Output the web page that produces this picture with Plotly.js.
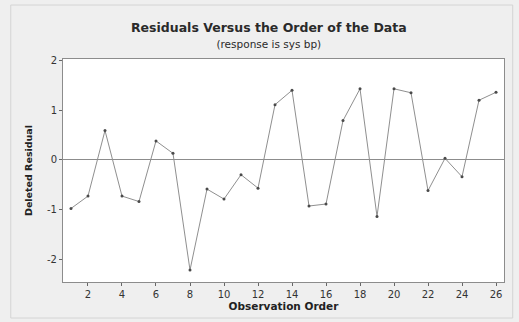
<!DOCTYPE html>
<html>
<head>
<meta charset="utf-8">
<script src="https://cdn.plot.ly/plotly-3.0.1.min.js"></script>
<style>
  html, body { margin: 0; padding: 0; background: #efefef; }
  #chart { width: 519px; height: 322px; }
</style>
</head>
<body>
<div id="chart"></div>
<script>
const observationOrder = [1,2,3,4,5,6,7,8,9,10,11,12,13,14,15,16,17,18,19,20,21,22,23,24,25,26];
const deletedResidual = [-0.98,-0.73,0.59,-0.73,-0.84,0.38,0.13,-2.22,-0.59,-0.79,-0.30,-0.57,1.11,1.40,-0.93,-0.89,0.79,1.43,-1.14,1.43,1.35,-0.62,0.03,-0.34,1.20,1.36];
const xTicks = [2,4,6,8,10,12,14,16,18,20,22,24,26];
const yTicks = [-2,-1,0,1,2];
const titleText = 'Residuals Versus the Order of the Data';
const subtitleText = '(response is sys bp)';
const xTitle = 'Observation Order';
const yTitle = 'Deleted Residual';

const trace = {
  x: observationOrder,
  y: deletedResidual,
  type: 'scatter',
  mode: 'lines+markers',
  line: { color: '#8f8f8f', width: 1 },
  marker: { color: '#4a4a4a', size: 3 },
  hoverinfo: 'x+y'
};

const layout = {
  width: 519,
  height: 322,
  paper_bgcolor: '#efefef',
  plot_bgcolor: '#ffffff',
  margin: { l: 63, r: 15, t: 59, b: 40 },
  showlegend: false,
  title: {
    text: '<b>' + titleText + '</b><br><span style="font-size:10.5px;font-weight:normal">' + subtitleText + '</span>',
    font: { family: 'DejaVu Sans', size: 12.5, color: '#2a2a2a' },
    x: 0.518, xanchor: 'center',
    y: 0.902, yanchor: 'top'
  },
  xaxis: {
    range: [0.53, 26.47],
    tickvals: xTicks,
    ticktext: xTicks.map(String),
    ticks: 'outside', ticklen: 3, tickcolor: '#666',
    showgrid: false, zeroline: false,
    showline: true, mirror: true, linecolor: '#8c8c8c', linewidth: 1,
    tickfont: { family: 'DejaVu Sans', size: 10, color: '#333' },
    title: { text: '<b>' + xTitle + '</b>', font: { family: 'DejaVu Sans', size: 10.5, color: '#222' }, standoff: 3 }
  },
  yaxis: {
    range: [-2.46, 2.03],
    tickvals: yTicks,
    ticktext: yTicks.map(v => v < 0 ? '-' + Math.abs(v) : String(v)),
    ticks: 'outside', ticklen: 3, tickcolor: '#666',
    showgrid: false,
    zeroline: true, zerolinecolor: '#8c8c8c', zerolinewidth: 1,
    showline: true, mirror: true, linecolor: '#8c8c8c', linewidth: 1,
    tickfont: { family: 'DejaVu Sans', size: 10, color: '#333' },
    title: { text: '<b>' + yTitle + '</b>', font: { family: 'DejaVu Sans', size: 9.5, color: '#222' }, standoff: 12 }
  },
  shapes: [{
    type: 'rect', xref: 'paper', yref: 'paper',
    x0: -54/456, x1: 1 + 9/456, y0: -36/223, y1: 1 + 54/223,
    line: { color: '#d4d4d4', width: 1 }, fillcolor: 'rgba(0,0,0,0)', layer: 'below'
  }]
};

Plotly.newPlot('chart', [trace], layout, { staticPlot: true, displayModeBar: false });
</script>
</body>
</html>
